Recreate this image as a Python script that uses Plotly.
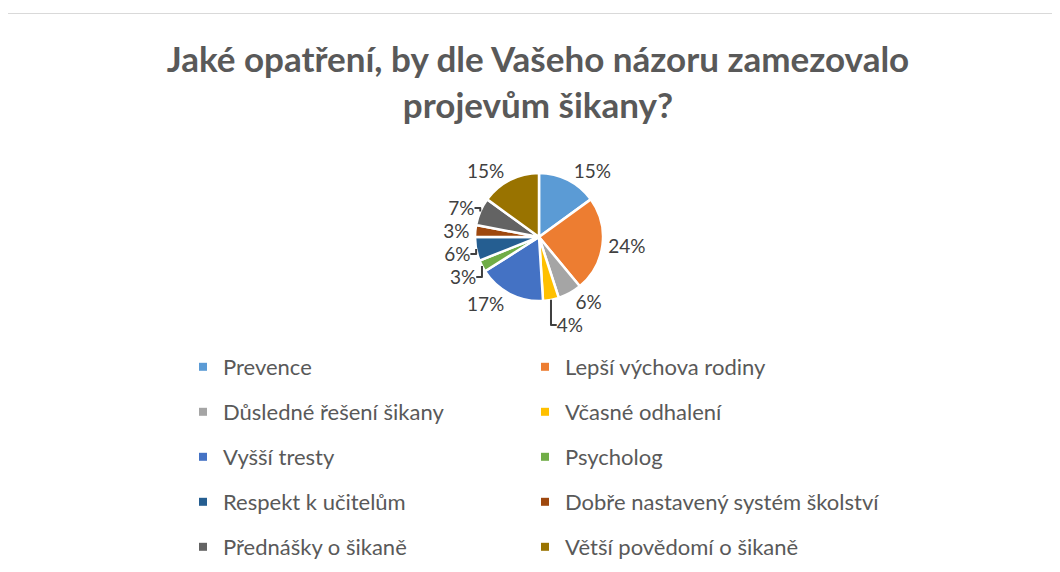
import plotly.graph_objects as go

categories = [
    "Prevence",
    "Lepší výchova rodiny",
    "Důsledné řešení šikany",
    "Včasné odhalení",
    "Vyšší tresty",
    "Psycholog",
    "Respekt k učitelům",
    "Dobře nastavený systém školství",
    "Přednášky o šikaně",
    "Větší povědomí o šikaně",
]
values = [15, 24, 6, 4, 17, 3, 6, 3, 7, 15]
colors = ["#5B9BD5", "#ED7D31", "#A5A5A5", "#FFC000", "#4472C4",
          "#70AD47", "#255E91", "#9E480E", "#636363", "#997300"]

title_text = "Jaké opatření, by dle Vašeho názoru zamezovalo<br>projevům šikany?"
FONT = "Lato, Open Sans, sans-serif"

W, H = 1060, 572
cx, cy, r = 531, 229, 64

fig = go.Figure()
fig.add_trace(go.Pie(
    labels=categories,
    values=values,
    sort=False,
    direction="clockwise",
    rotation=0,
    marker=dict(colors=colors, line=dict(color="white", width=2.5)),
    texttemplate="%{percent:.0%}",
    textposition="outside",
    textfont=dict(family=FONT, size=19, color="#404040"),
    showlegend=False,
    hoverinfo="label+percent",
    domain=dict(x=[(cx - r) / W, (cx + r) / W],
                y=[(H - cy - r) / H, (H - cy + r) / H]),
))

# legend entries: 5 rows x 2 columns, one legend box per entry
row_y = [359, 404, 449, 494, 539]
col_x = [175, 517]
legend_common = dict(
    orientation="h",
    font=dict(family=FONT, size=22, color="#595959"),
    bgcolor="rgba(0,0,0,0)", xanchor="left", yanchor="middle",
    itemclick=False, itemdoubleclick=False,
)
layout_legends = {}
for i, (cat, col) in enumerate(zip(categories, colors)):
    name = "legend" if i == 0 else f"legend{i + 1}"
    fig.add_trace(go.Scatter(
        x=[None], y=[None], mode="markers", name=cat,
        marker=dict(symbol="square", size=8, color=col),
        legend=name, showlegend=True,
    ))
    layout_legends[name] = dict(legend_common, x=col_x[i % 2] / W, y=1 - row_y[i // 2] / H)

fig.update_layout(
    width=W, height=H,
    margin=dict(l=0, r=0, t=0, b=0),
    paper_bgcolor="white", plot_bgcolor="white",
    title=dict(text=title_text, x=0.5, xanchor="center", y=1 - 64 / H, yanchor="middle",
               font=dict(family=FONT, size=35, color="#595959", weight="bold")),
    xaxis=dict(visible=False), yaxis=dict(visible=False),
    shapes=[dict(type="rect", xref="paper", yref="paper",
                 x0=-3.5 / W, x1=1.02, y0=-0.05, y1=1 - 5.5 / H,
                 line=dict(color="#D9D9D9", width=1.2), layer="above")],
    **layout_legends,
)

fig.write_html("out.html")
